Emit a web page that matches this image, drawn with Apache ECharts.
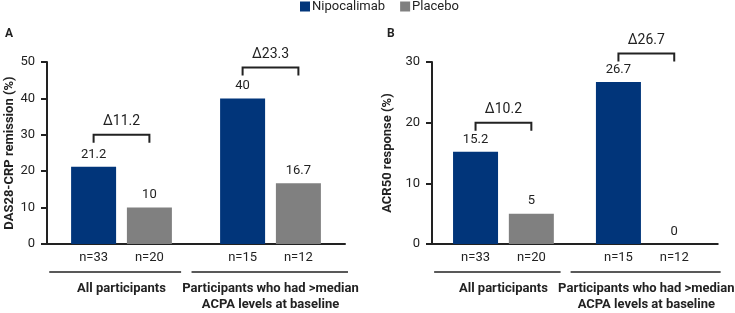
<!DOCTYPE html>
<html>
<head>
<meta charset="utf-8">
<script src="https://cdn.jsdelivr.net/npm/echarts@6/dist/echarts.min.js"></script>
<style>
  html, body { margin: 0; padding: 0; background: #fff; }
  #chart { width: 735px; height: 313px; }
</style>
</head>
<body>
<div id="chart"></div>
<script>
(function() {
  const chart = echarts.init(document.getElementById('chart'));
  const font = "'Roboto', 'Liberation Sans', sans-serif";
  const navy = '#01357a';
  const grey = '#808080';
  const ink = '#222';

  const groups = ['All participants', 'Participants who had >median\nACPA levels at baseline'];
  const nNipocalimab = ['n=33', 'n=15'];
  const nPlacebo = ['n=20', 'n=12'];

  const das28Nipocalimab = [21.2, 40];
  const das28Placebo = [10, 16.7];
  const das28Delta = ['Δ11.2', 'Δ23.3'];
  const das28Bracket = [30, 48.5];

  const acr50Nipocalimab = [15.2, 26.7];
  const acr50Placebo = [5, 0];
  const acr50Delta = ['Δ10.2', 'Δ26.7'];
  const acr50Bracket = [20, 31.4];

  const barWidth = 45;
  const barGap = 0.24;

  function annotations(deltas, brackets) {
    return groups.map(function(g, i) {
      return [i, brackets[i], deltas[i], nNipocalimab[i], nPlacebo[i]];
    });
  }

  function renderAnnot(params, api) {
    const i = api.value(0);
    const top = api.coord([i, api.value(1)]);
    const base = api.coord([i, 0]);
    const W = api.size([1, 0])[0];
    const off = barWidth * (1 + barGap) / 2;
    const x1 = top[0] - off;
    const x2 = top[0] + off;
    const y = top[1];
    const tickLen = 8;
    const lineStyle = { stroke: ink, lineWidth: 2, fill: null };
    const lineL = i === 0 ? top[0] - 0.485 * W : top[0] - 0.53 * W;
    const lineR = i === 0 ? top[0] + 0.40 * W : top[0] + 0.52 * W;
    return {
      type: 'group',
      children: [
        {
          type: 'polyline',
          shape: { points: [[x1, y + tickLen], [x1, y], [x2, y], [x2, y + tickLen]] },
          style: lineStyle
        },
        {
          type: 'text',
          x: top[0], y: y - 6,
          style: { text: api.value(2), font: '14px ' + font, fill: ink, align: 'center', verticalAlign: 'bottom' }
        },
        {
          type: 'text',
          x: x1, y: base[1] + 14,
          style: { text: api.value(3), font: '13px ' + font, fill: ink, align: 'center', verticalAlign: 'middle' }
        },
        {
          type: 'text',
          x: x2, y: base[1] + 14,
          style: { text: api.value(4), font: '13px ' + font, fill: ink, align: 'center', verticalAlign: 'middle' }
        },
        {
          type: 'line',
          shape: { x1: lineL, y1: base[1] + 28, x2: lineR, y2: base[1] + 28 },
          style: { stroke: ink, lineWidth: 1.5 }
        }
      ]
    };
  }

  function barSeries(name, color, data, idx) {
    return {
      name: name,
      type: 'bar',
      xAxisIndex: idx,
      yAxisIndex: idx,
      data: data,
      barWidth: barWidth,
      barGap: (barGap * 100) + '%',
      itemStyle: { color: color },
      label: {
        show: true,
        position: 'top',
        distance: 6,
        color: ink,
        fontFamily: font,
        fontSize: 13
      }
    };
  }

  const xAxisBase = {
    type: 'category',
    data: groups,
    axisLine: { lineStyle: { color: ink, width: 2 } },
    axisTick: { show: false },
    axisLabel: {
      interval: 0,
      margin: 37,
      color: ink,
      fontFamily: font,
      fontSize: 13,
      fontWeight: 'bold',
      lineHeight: 16
    }
  };

  function yAxis(idx, max, name, gap) {
    return {
      type: 'value',
      gridIndex: idx,
      min: 0,
      max: max,
      interval: 10,
      name: name,
      nameLocation: 'middle',
      nameGap: gap,
      nameTextStyle: { color: ink, fontFamily: font, fontSize: 13, fontWeight: 'bold' },
      splitLine: { show: false },
      axisLine: { show: true, lineStyle: { color: ink, width: 2 } },
      axisTick: { show: true, length: 6, lineStyle: { color: ink, width: 2 } },
      axisLabel: { margin: 12, color: ink, fontFamily: font, fontSize: 13 }
    };
  }

  const option = {
    animation: false,
    legend: {
      data: ['Nipocalimab', 'Placebo'],
      left: 295,
      top: -5,
      itemWidth: 10,
      itemHeight: 10,
      itemGap: 15,
      textStyle: { color: ink, fontFamily: font, fontSize: 13, padding: [0, 0, 0, -3] },
      icon: 'rect'
    },
    title: [
      { text: 'A', left: 0, top: 23, textStyle: { fontFamily: font, fontSize: 12, fontWeight: 'bold', color: ink } },
      { text: 'B', left: 382, top: 23, textStyle: { fontFamily: font, fontSize: 12, fontWeight: 'bold', color: ink } }
    ],
    grid: [
      { left: 47, right: 390, top: 62, bottom: 64 },
      { left: 432, right: 7, top: 62, bottom: 64 }
    ],
    xAxis: [
      Object.assign({ gridIndex: 0 }, xAxisBase),
      Object.assign({ gridIndex: 1 }, xAxisBase)
    ],
    yAxis: [
      yAxis(0, 50, 'DAS28-CRP remission (%)', 26),
      yAxis(1, 30, 'ACR50 response (%)', 38)
    ],
    series: [
      barSeries('Nipocalimab', navy, das28Nipocalimab, 0),
      barSeries('Placebo', grey, das28Placebo, 0),
      barSeries('Nipocalimab', navy, acr50Nipocalimab, 1),
      barSeries('Placebo', grey, acr50Placebo, 1),
      {
        type: 'custom',
        xAxisIndex: 0,
        yAxisIndex: 0,
        clip: false,
        silent: true,
        renderItem: renderAnnot,
        data: annotations(das28Delta, das28Bracket),
        z: 5
      },
      {
        type: 'custom',
        xAxisIndex: 1,
        yAxisIndex: 1,
        clip: false,
        silent: true,
        renderItem: renderAnnot,
        data: annotations(acr50Delta, acr50Bracket),
        z: 5
      }
    ]
  };

  chart.setOption(option);
}());
</script>
</body>
</html>
